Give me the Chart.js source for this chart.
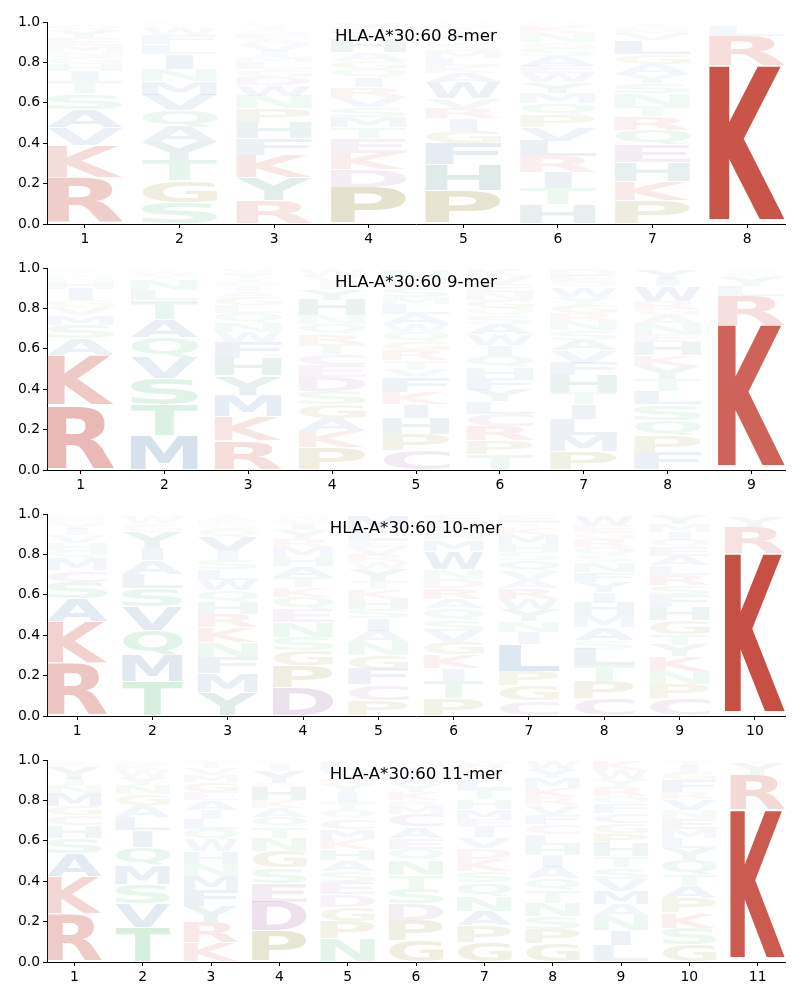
<!DOCTYPE html>
<html>
<head>
<meta charset="utf-8">
<script src="https://cdn.jsdelivr.net/npm/chart.js@4"></script>
<style>
html,body{margin:0;padding:0;background:#fff;width:800px;height:1000px;overflow:hidden}
canvas{position:absolute;left:0}
</style>
</head>
<body>
<script>
const titles = ['HLA-A*30:60 8-mer','HLA-A*30:60 9-mer','HLA-A*30:60 10-mer','HLA-A*30:60 11-mer'];
const positions8 = [1,2,3,4,5,6,7,8];
const positions9 = [1,2,3,4,5,6,7,8,9];
const positions10 = [1,2,3,4,5,6,7,8,9,10];
const positions11 = [1,2,3,4,5,6,7,8,9,10,11];
const yTicks = [0,0.2,0.4,0.6,0.8,1];

// Letters of each position, bottom to top, and the cumulative top of each letter.
const letters8 = ['RKVASTIHGNMEYQ','SGTYAQVMNILFWKE','RYKFHPNWDGLMIVAESTQ','PDKETMSVRIQGAHVNY','PHFGIRVWAKLMSTENYQ','HTIRLVPQMYWEASGNKD','PKHEQRTNSYAGLVMDIW','KRLYSTG'];
const tops8 = [
[.23,.39,.477,.566,.645,.705,.757,.793,.825,.85,.885,.92,.96,.985],
[.106,.213,.312,.403,.48,.563,.639,.705,.766,.84,.889,.936,.97,.985,.995],
[.114,.229,.34,.422,.502,.571,.634,.686,.728,.764,.799,.828,.858,.889,.915,.94,.96,.98,.995],
[.183,.269,.348,.422,.477,.53,.579,.629,.678,.724,.766,.807,.848,.914,.945,.97,.995],
[.163,.292,.398,.46,.521,.573,.62,.70,.749,.782,.823,.856,.89,.92,.94,.96,.98,.995],
[.097,.177,.257,.333,.411,.477,.538,.596,.647,.70,.744,.782,.832,.87,.90,.945,.98,.995],
[.114,.21,.304,.39,.465,.531,.584,.645,.695,.739,.79,.84,.909,.94,.96,.975,.99,.998],
[.782,.93,.98,.988,.994,.998,1]];

const letters9 = ['RKASMVGIHNYTE','MTSVQATLNYWKE','RKMYHFWNQLGAIETYV','PKAGSDECTRQNHYIVW','CPHIKFVTRGQWALMSEN','TPRCLYFHQIWASQGNEVK','PMLITHFVASNRGYWQED','FPQSLTYKHENAGRWIY','KRLYNTAE'];
const tops9 = [
[.318,.566,.649,.715,.764,.805,.838,.896,.934,.955,.97,.985,.995],
[.17,.323,.455,.558,.653,.743,.838,.891,.946,.965,.98,.99,.997],
[.145,.266,.371,.467,.553,.632,.682,.731,.776,.817,.855,.884,.908,.93,.95,.975,.995],
[.112,.19,.256,.323,.389,.459,.517,.574,.624,.673,.72,.764,.842,.896,.93,.96,.99],
[.096,.178,.256,.323,.385,.459,.5,.541,.591,.635,.68,.72,.77,.82,.855,.90,.945,.99],
[.076,.145,.216,.277,.338,.396,.455,.508,.561,.616,.67,.723,.764,.80,.84,.88,.92,.96,.99],
[.092,.173,.251,.323,.384,.467,.53,.591,.644,.69,.736,.776,.814,.855,.904,.93,.96,.99],
[.087,.17,.244,.323,.389,.447,.512,.566,.632,.67,.72,.764,.797,.835,.908,.946,.995],
[.715,.858,.908,.955,.97,.98,.99,.997]];

const letters10 = ['RKASCMQHVIYNEGT','TMQVSLAIYGFWNE','YMFNKRHQWLSIVQGEAT','DPGSNEQKTAHMRYIFWV','PCFGNAISHKTYWRVELM','PTIKGVSQARDNWMHYLE','CGPLINYWRAVQSHMKTE','CPTLSAMHIYFNSQRGEW','CPNKYTGHFSRLAEQIMY','KRYVT'];
const tops10 = [
[.261,.466,.579,.661,.719,.777,.818,.856,.893,.926,.95,.965,.98,.99,.997],
[.17,.301,.421,.54,.631,.702,.769,.83,.909,.942,.955,.985,.992,.998],
[.116,.21,.289,.364,.438,.504,.565,.62,.674,.724,.769,.813,.884,.926,.95,.97,.985,.997],
[.14,.248,.322,.388,.463,.526,.587,.636,.686,.74,.785,.835,.876,.92,.955,.97,.985,.997],
[.078,.154,.231,.298,.364,.421,.483,.529,.579,.628,.669,.727,.76,.797,.835,.868,.917,.99],
[.086,.174,.236,.302,.364,.421,.476,.532,.579,.631,.678,.724,.813,.868,.90,.93,.96,.99],
[.074,.149,.22,.355,.413,.468,.526,.579,.631,.674,.719,.769,.81,.851,.896,.93,.96,.99],
[.086,.17,.248,.331,.375,.438,.496,.559,.612,.664,.711,.76,.793,.835,.876,.91,.945,.99],
[.086,.157,.223,.294,.352,.405,.471,.537,.595,.645,.698,.744,.79,.835,.871,.912,.95,.995],
[.802,.934,.985,.993,.998]];

const letters11 = ['RKASHCGMNIYETQ','TVSMQILAGNYWKEH','KRYFMNHWQLIAEGMVT','PDESGNTQAKHRYIVWL','NPGDESAHKMCQTIYRVL','GPDSTNQEACMRKYWIVH','GPANQSKDVIEMHTLYRW','GPSNTQAIHLCFVRKMYW','LINAMVSTHPGCFQRYWK','GSKPATQYLMENVRFGIT','KRYTS'];
const tops11 = [
[.238,.422,.538,.614,.675,.724,.769,.835,.873,.906,.964,.98,.99,.997],
[.168,.29,.386,.477,.568,.65,.716,.774,.828,.873,.914,.95,.975,.99,.997],
[.097,.196,.276,.353,.424,.485,.546,.604,.658,.708,.752,.799,.84,.889,.925,.96,.995],
[.152,.295,.386,.465,.546,.614,.667,.716,.762,.799,.865,.885,.947,.98,.99,.995,.999],
[.114,.201,.271,.333,.394,.449,.505,.559,.609,.658,.708,.749,.79,.84,.881,.91,.95,.99],
[.106,.205,.287,.361,.427,.502,.559,.614,.67,.733,.774,.80,.84,.88,.92,.95,.975,.995],
[.097,.18,.251,.325,.394,.449,.51,.564,.617,.667,.708,.757,.804,.856,.906,.94,.97,.995],
[.089,.163,.226,.292,.353,.411,.469,.526,.579,.634,.68,.728,.774,.815,.86,.911,.955,.995],
[.081,.155,.226,.284,.35,.411,.469,.521,.584,.637,.686,.736,.782,.82,.865,.906,.95,.995],
[.086,.168,.243,.315,.378,.432,.502,.564,.614,.658,.708,.752,.807,.84,.901,.939,.972,.997],
[.752,.922,.98,.99,.997]];

const panels = [
  {title:titles[0], positions:positions8,  letters:letters8,  tops:tops8,  top:22},
  {title:titles[1], positions:positions9,  letters:letters9,  tops:tops9,  top:268},
  {title:titles[2], positions:positions10, letters:letters10, tops:tops10, top:514},
  {title:titles[3], positions:positions11, letters:letters11, tops:tops11, top:760}
];

const RGB = {};
const groups = [['RK','192,57,43'],['PG','120,112,0'],['DEC','134,66,140'],['HY','25,109,100'],['STNQ','39,170,84'],['AVMFLWI','41,95,155']];
groups.forEach(g => g[0].split('').forEach(c => RGB[c] = g[1]));

const FONT = 'bold 100px "DejaVu Sans"';
const logoPlugin = {
  id:'logo',
  afterDatasetsDraw(chart){
    const ctx = chart.ctx, meta = chart.getDatasetMeta(0), data = chart.data.datasets[0].data;
    meta.data.forEach((bar,i) => {
      const d = data[i], L = d.letter, h = d.y[1]-d.y[0];
      const p = bar.getProps(['x','y','base','width'],true);
      const boxH = Math.abs(p.base-p.y);
      ctx.save();
      ctx.font = FONT;
      ctx.textAlign = 'left';
      ctx.textBaseline = 'alphabetic';
      const m = ctx.measureText(L);
      const gw = m.actualBoundingBoxLeft+m.actualBoundingBoxRight;
      const gh = m.actualBoundingBoxAscent+m.actualBoundingBoxDescent;
      const w = L==='I' ? p.width*0.36 : p.width;
      const drawH = boxH*0.965;
      const sx = w/gw, sy = drawH/gh;
      const bottom = p.base-boxH*0.028;
      ctx.translate(p.x-w/2+m.actualBoundingBoxLeft*sx, bottom-m.actualBoundingBoxDescent*sy);
      ctx.scale(sx,sy);
      ctx.fillStyle = 'rgba('+RGB[L]+','+Math.min(1,h*1.1).toFixed(3)+')';
      ctx.fillText(L,0,0);
      ctx.restore();
    });
    const tx = chart.scales.x, ty = chart.scales.y;
    ctx.save();
    ctx.font = '16.67px "DejaVu Sans"';
    ctx.fillStyle = '#000';
    ctx.textAlign = 'center';
    ctx.textBaseline = 'middle';
    ctx.fillText(chart.options.plugins.logo.title,(tx.left+tx.right)/2,ty.getPixelForValue(0.925));
    ctx.restore();
  }
};

panels.forEach(panel => {
  const cv = document.createElement('canvas');
  cv.style.top = (panel.top-21)+'px';
  cv.style.width = '800px';
  cv.style.height = '245px';
  cv.width = 800; cv.height = 245;
  document.body.appendChild(cv);
  const rows = [];
  panel.positions.forEach((pos,i) => {
    let prev = 0;
    panel.letters[i].split('').forEach((L,j) => {
      rows.push({x:pos,y:[prev,panel.tops[i][j]],letter:L});
      prev = panel.tops[i][j];
    });
  });
  const n = panel.positions.length;
  new Chart(cv,{
    type:'bar',
    data:{datasets:[{data:rows,backgroundColor:'rgba(0,0,0,0)',borderWidth:0,barPercentage:1,categoryPercentage:0.8}]},
    plugins:[logoPlugin],
    options:{
      responsive:false,animation:false,
      layout:{padding:{left:0,right:15,top:21,bottom:0}},
      events:[],
      plugins:{legend:{display:false},tooltip:{enabled:false},title:{display:false},logo:{title:panel.title}},
      scales:{
        x:{type:'linear',min:0.6,max:n+0.4,offset:false,
          afterBuildTicks(s){s.ticks = panel.positions.map(v=>({value:v}));},
          afterFit(s){s.height = 22;},
          grid:{offset:false,drawOnChartArea:false,color:'#000',tickLength:4,tickWidth:1},
          border:{color:'#000',width:1},
          ticks:{color:'#000',font:{family:'"DejaVu Sans"',size:13.9},padding:3,maxRotation:0,autoSkip:false,callback:v=>String(v)}},
        y:{min:0,max:1,
          afterBuildTicks(s){s.ticks = yTicks.map(v=>({value:v}));},
          afterFit(s){s.width = 47;},
          grid:{drawOnChartArea:false,color:'#000',tickLength:4,tickWidth:1},
          border:{color:'#000',width:1},
          ticks:{color:'#000',font:{family:'"DejaVu Sans"',size:13.9},padding:3,callback:v=>v.toFixed(1)}}
      }
    }
  });
});
</script>
</body>
</html>
